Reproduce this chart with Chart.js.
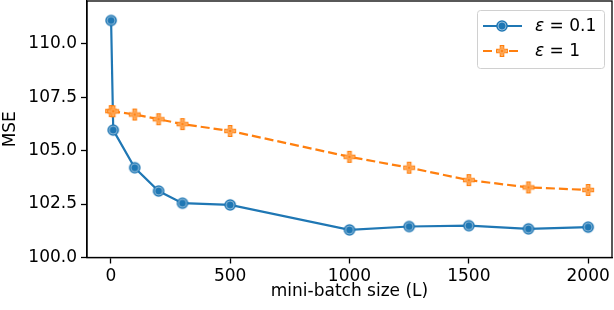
<!DOCTYPE html>
<html>
<head>
<meta charset="utf-8">
<script src="https://cdn.jsdelivr.net/npm/chart.js@4.4.1/dist/chart.umd.min.js"></script>
<style>
  html, body { margin: 0; padding: 0; background: #fff; }
  #wrap { width: 614px; height: 310px; }
</style>
</head>
<body>
<div id="wrap"><canvas id="mseChart" width="614" height="310"></canvas></div>
<script>
// data
const batchSizes = [1, 10, 100, 200, 300, 500, 1000, 1250, 1500, 1750, 2000];
const mseEps01 = [111.09, 105.96, 104.2, 103.11, 102.54, 102.46, 101.29, 101.45, 101.49, 101.34, 101.42];
const mseEps1 = [106.85, 106.84, 106.69, 106.47, 106.24, 105.92, 104.71, 104.2, 103.62, 103.28, 103.16];
const xTicks = [0, 500, 1000, 1500, 2000];
const yTicks = [100.0, 102.5, 105.0, 107.5, 110.0];
const seriesNames = ['0.1', '1'];

const BLUE = '#1f77b4';
const ORANGE = '#ff7f0e';
const FONT = "'DejaVu Sans', sans-serif";

function circleMarker() {
    const c = document.createElement('canvas');
    c.width = 14; c.height = 14;
    const g = c.getContext('2d');
    g.fillStyle = BLUE;
    g.beginPath(); g.arc(7, 7, 5.8, 0, Math.PI * 2); g.fill();
    g.strokeStyle = 'rgba(255,255,255,0.7)';
    g.lineWidth = 0.7;
    g.beginPath(); g.arc(7, 7, 4.0, 0, Math.PI * 2); g.stroke();
    return c;
}

function plusPath(g, cx, cy, r, w) {
    g.beginPath();
    g.moveTo(cx - w, cy - r); g.lineTo(cx + w, cy - r); g.lineTo(cx + w, cy - w);
    g.lineTo(cx + r, cy - w); g.lineTo(cx + r, cy + w); g.lineTo(cx + w, cy + w);
    g.lineTo(cx + w, cy + r); g.lineTo(cx - w, cy + r); g.lineTo(cx - w, cy + w);
    g.lineTo(cx - r, cy + w); g.lineTo(cx - r, cy - w); g.lineTo(cx - w, cy - w);
    g.closePath();
}

function plusMarker() {
    const c = document.createElement('canvas');
    c.width = 14; c.height = 14;
    const g = c.getContext('2d');
    g.fillStyle = ORANGE;
    plusPath(g, 7, 7, 5.9, 2.3);
    g.fill();
    g.strokeStyle = 'rgba(255,215,170,0.85)';
    g.lineWidth = 0.8;
    plusPath(g, 7, 7, 4.3, 0.9);
    g.stroke();
    return c;
}

const blueDot = circleMarker();
const orangePlus = plusMarker();

// full box round the plot, like matplotlib spines
const framePlugin = {
    id: 'frame',
    afterDatasetsDraw(chart) {
        const a = chart.chartArea;
        const ctx = chart.ctx;
        ctx.save();
        ctx.strokeStyle = '#000';
        ctx.lineWidth = 1.3;
        ctx.strokeRect(a.left, a.top, a.right - a.left, a.bottom - a.top);
        ctx.restore();
    }
};

const legendPlugin = {
    id: 'boxLegend',
    afterDraw(chart) {
        const ctx = chart.ctx;
        const x0 = 477, y0 = 10, w = 127, h = 58, r = 3;
        ctx.save();
        ctx.fillStyle = 'rgba(255,255,255,0.8)';
        ctx.strokeStyle = '#d0d0d0';
        ctx.lineWidth = 1;
        ctx.beginPath();
        ctx.roundRect(x0 + 0.5, y0 + 0.5, w, h, r);
        ctx.fill(); ctx.stroke();

        const rows = [
            { y: 26, color: BLUE, dash: [], img: blueDot, label: seriesNames[0] },
            { y: 51, color: ORANGE, dash: [9, 4], img: orangePlus, label: seriesNames[1] }
        ];
        rows.forEach(row => {
            ctx.strokeStyle = row.color;
            ctx.lineWidth = 2.2;
            ctx.setLineDash(row.dash);
            ctx.beginPath();
            ctx.moveTo(483, row.y); ctx.lineTo(522, row.y);
            ctx.stroke();
            ctx.setLineDash([]);
            ctx.drawImage(row.img, 502 - 7, row.y - 7);
            ctx.fillStyle = '#000';
            ctx.textBaseline = 'middle';
            ctx.font = 'italic 17px ' + FONT;
            ctx.fillText('\u03b5', 535, row.y + 1);
            const ew = ctx.measureText('\u03b5').width;
            ctx.font = '17px ' + FONT;
            ctx.fillText(' = ' + row.label, 535 + ew, row.y + 1);
        });
        ctx.restore();
    }
};

new Chart(document.getElementById('mseChart'), {
    type: 'line',
    data: {
        datasets: [
            {
                label: '\u03b5 = 0.1',
                data: batchSizes.map((x, i) => ({ x: x, y: mseEps01[i] })),
                borderColor: BLUE,
                borderWidth: 2.2,
                pointStyle: blueDot,
                pointRadius: 6,
                tension: 0,
                order: 2
            },
            {
                label: '\u03b5 = 1',
                data: batchSizes.map((x, i) => ({ x: x, y: mseEps1[i] })),
                borderColor: ORANGE,
                borderWidth: 2.2,
                borderDash: [9, 4],
                pointStyle: orangePlus,
                pointRadius: 6,
                tension: 0,
                order: 1
            }
        ]
    },
    options: {
        responsive: false,
        animation: false,
        devicePixelRatio: 1,
        layout: { autoPadding: false, padding: { top: 1, right: 2, left: 0, bottom: 0 } },
        plugins: {
            legend: { display: false },
            tooltip: { enabled: false }
        },
        scales: {
            x: {
                type: 'linear',
                min: -99.95,
                max: 2099.95,
                afterBuildTicks: axis => { axis.ticks = xTicks.map(v => ({ value: v })); },
                afterFit: scale => {
                    scale.height = 52.5;
                    scale.paddingLeft = 0;
                    scale.paddingRight = 0;
                },
                ticks: {
                    color: '#000',
                    font: { family: FONT, size: 17 },
                    padding: 3,
                    maxRotation: 0,
                    callback: v => String(v)
                },
                grid: { drawOnChartArea: false, drawTicks: true, tickLength: 6, color: '#000', tickWidth: 1.3 },
                border: { display: true, color: '#000', width: 1.3 },
                title: {
                    display: true,
                    text: 'mini-batch size (L)',
                    color: '#000',
                    font: { family: FONT, size: 17 },
                    padding: { top: 0, bottom: 8 }
                }
            },
            y: {
                min: 100,
                max: 112,
                afterBuildTicks: axis => { axis.ticks = yTicks.map(v => ({ value: v })); },
                afterFit: scale => {
                    scale.width = 87;
                    scale.paddingTop = 0;
                    scale.paddingBottom = 0;
                },
                ticks: {
                    color: '#000',
                    font: { family: FONT, size: 17 },
                    padding: 4,
                    callback: v => v.toFixed(1)
                },
                grid: { drawOnChartArea: false, drawTicks: true, tickLength: 6, color: '#000', tickWidth: 1.3 },
                border: { display: true, color: '#000', width: 1.3 },
                title: {
                    display: true,
                    text: 'MSE',
                    color: '#000',
                    font: { family: FONT, size: 17 },
                    padding: { top: 0, bottom: 0 }
                }
            }
        }
    },
    plugins: [framePlugin, legendPlugin]
});
</script>
</body>
</html>
